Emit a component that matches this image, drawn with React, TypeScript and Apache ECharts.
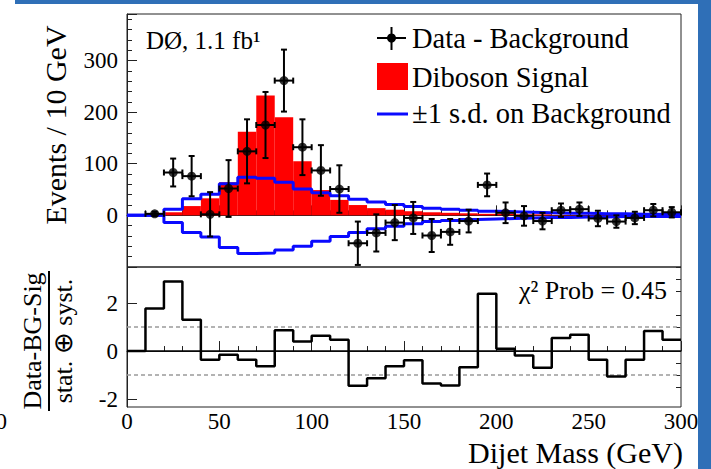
import React, { useEffect, useRef } from "react";
import * as echarts from "echarts";

// Dijet mass bins, 10 GeV wide
const binEdges = [
  0, 10, 20, 30, 40, 50, 60, 70, 80, 90, 100, 110, 120, 130, 140, 150,
  160, 170, 180, 190, 200, 210, 220, 230, 240, 250, 260, 270, 280, 290, 300,
];

// Expected diboson signal (events / 10 GeV)
const signal = [
  0, 0, 6, 18, 33, 64, 162, 232, 190, 105, 49, 30, 20, 14, 11, 8, 6, 5, 4, 3,
  3, 2, 2, 1, 1, 1, 1, 1, 1, 1,
];

// ±1 s.d. band on the background
const bgUp = [
  0, 0, 12, 32, 41, 61, 74, 72, 64, 51, 44, 38, 31, 26, 21, 17, 14, 12, 10, 8,
  7, 6, 5, 4, 4, 3, 3, 2, 2, 2,
];
const bgDown = [
  0, 0, -14, -33, -42, -62, -74, -73, -67, -60, -50, -41, -33, -26, -21, -16,
  -12, -10, -8, -7, -6, -5, -4, -4, -3, -3, -2, -2, -2, -2,
];

// Data minus background, with uncertainties
const dataValues = [
  null, 3, 83, 76, 2, 52, 124, 175, 261, 132, 87, 51, -54, -34, -14, -5, -39,
  -32, -11, 59, 5, -1, -11, 10, 12, -6, -12, -5, 10, 6,
];
const dataErrors = [
  null, 4, 27, 39, 43, 55, 62, 64, 60, 54, 49, 46, 42, 36, 34, 31, 32, 25, 22,
  22, 20, 19, 16, 13, 13, 15, 12, 12, 12, 10,
];

// (Data - BG - Sig) / (stat ⊕ syst)
const pulls = [
  0, 1.77, 2.9, 1.3, -0.36, -0.15, -0.36, -0.63, 0.87, 0.4, 0.64, 0.47, -1.45,
  -1.13, -0.63, -0.38, -1.35, -1.43, -0.67, 2.39, 0.1, -0.19, -0.7, 0.54, 0.68,
  -0.36, -1.06, -0.36, 0.83, 0.47,
];

const pullMajorTicks = [-2, 0, 2];
const pullMinorTicks = [-1.5, -1, -0.5, 0.5, 1, 1.5, 2.5, 3, 3.5];

const SERIF = "Liberation Serif";
const BLUE = "#0a0aff";
const RED = "#ff0000";

function stepOutline(values: number[]) {
  const pts = values.map((v, i) => [binEdges[i], v]);
  pts.push([binEdges[values.length], values[values.length - 1]]);
  return pts;
}

function label(text: string, x: number, y: number, size: number, extra: any = {}) {
  return {
    type: "text",
    x,
    y,
    ...extra.el,
    style: {
      text,
      fontFamily: SERIF,
      fontSize: size,
      fill: "#000",
      verticalAlign: "middle",
      ...extra.style,
    },
  };
}

export default function App() {
  const ref = useRef<HTMLDivElement>(null);

  useEffect(() => {
    if (!ref.current) return;
    const chart = echarts.init(ref.current, undefined, { renderer: "svg" });

    const signalBars = signal.map((v, i) => [binEdges[i], binEdges[i + 1], v]);
    const points: number[][] = [];
    dataValues.forEach((v, i) => {
      if (v === null) return;
      const lo = binEdges[i];
      const hi = binEdges[i + 1];
      points.push([(lo + hi) / 2, v as number, dataErrors[i] as number, (hi - lo) / 2]);
    });

    const tickLabel = { fontFamily: SERIF, fontSize: 23, color: "#000" };
    const axisLine = { lineStyle: { color: "#222", width: 1 } };
    const tick = (length: number, extra: any = {}) => ({
      inside: true,
      length,
      lineStyle: { color: "#222" },
      ...extra,
    });

    chart.setOption({
      animation: false,
      backgroundColor: "#fff",
      grid: [
        { left: 127, top: 14, width: 554, height: 253, show: true, borderColor: "#222", borderWidth: 1, backgroundColor: "transparent" },
        { left: 127, top: 267, width: 554, height: 140, show: true, borderColor: "#222", borderWidth: 1, backgroundColor: "transparent" },
      ],
      xAxis: [
        {
          type: "value", gridIndex: 0, min: 0, max: 300, interval: 50,
          axisLine,
          axisTick: tick(10),
          minorTick: { show: true, splitNumber: 5, length: 5, lineStyle: { color: "#222" } },
          axisLabel: { show: false },
          splitLine: { show: false },
        },
        {
          type: "value", gridIndex: 1, min: 0, max: 300, interval: 50,
          axisLine,
          axisTick: tick(10),
          minorTick: { show: true, splitNumber: 5, length: 5, lineStyle: { color: "#222" } },
          axisLabel: { ...tickLabel, margin: 3 },
          splitLine: { show: false },
        },
      ],
      yAxis: [
        {
          type: "value", gridIndex: 0, min: -100, max: 390, interval: 100,
          axisLine: { show: true, ...axisLine },
          axisTick: tick(10),
          minorTick: { show: true, splitNumber: 5, length: 5, lineStyle: { color: "#222" } },
          axisLabel: {
            ...tickLabel, margin: 9,
            formatter: (v: number) => (v >= 0 && v <= 300 ? String(v) : ""),
          },
          splitLine: { show: false },
        },
        {
          type: "value", gridIndex: 1, min: -2.33, max: 3.5,
          axisLine: { show: true, ...axisLine },
          axisTick: tick(10, { customValues: pullMajorTicks }),
          axisLabel: { ...tickLabel, margin: 9, customValues: pullMajorTicks },
          splitLine: { show: false },
        },
        {
          type: "value", gridIndex: 1, min: -2.33, max: 3.5,
          axisLine: { show: false },
          axisTick: tick(5, { customValues: pullMinorTicks }),
          axisLabel: { show: false },
          splitLine: { show: false },
        },
      ],
      series: [
        {
          name: "Diboson Signal",
          type: "custom",
          xAxisIndex: 0, yAxisIndex: 0,
          data: signalBars,
          renderItem: (_p: any, api: any) => {
            const a = api.coord([api.value(0), 0]);
            const b = api.coord([api.value(1), api.value(2)]);
            return {
              type: "rect",
              shape: { x: a[0], y: Math.min(a[1], b[1]), width: b[0] - a[0], height: Math.abs(a[1] - b[1]) },
              style: { fill: RED },
            };
          },
          z: 1,
        },
        {
          name: "bg up",
          type: "line", step: "end", xAxisIndex: 0, yAxisIndex: 0,
          data: stepOutline(bgUp), showSymbol: false, symbol: "none",
          lineStyle: { color: BLUE, width: 3 }, z: 2,
        },
        {
          name: "bg down",
          type: "line", step: "end", xAxisIndex: 0, yAxisIndex: 0,
          data: stepOutline(bgDown), showSymbol: false, symbol: "none",
          lineStyle: { color: BLUE, width: 3 }, z: 2,
        },
        {
          name: "Data - Background errors",
          type: "custom", xAxisIndex: 0, yAxisIndex: 0,
          data: points,
          renderItem: (_p: any, api: any) => {
            const x = api.value(0), y = api.value(1), e = api.value(2), hw = api.value(3);
            const c = api.coord([x, y]);
            const t = api.coord([x, y + e]);
            const b = api.coord([x, y - e]);
            const l = api.coord([x - hw, y]);
            const r = api.coord([x + hw, y]);
            const cap = 3;
            const st = { stroke: "#000", lineWidth: 2 };
            return {
              type: "group",
              children: [
                { type: "line", shape: { x1: c[0], y1: t[1], x2: c[0], y2: b[1] }, style: st },
                { type: "line", shape: { x1: l[0], y1: c[1], x2: r[0], y2: c[1] }, style: st },
                { type: "line", shape: { x1: c[0] - cap, y1: t[1], x2: c[0] + cap, y2: t[1] }, style: st },
                { type: "line", shape: { x1: c[0] - cap, y1: b[1], x2: c[0] + cap, y2: b[1] }, style: st },
                { type: "line", shape: { x1: l[0], y1: c[1] - cap, x2: l[0], y2: c[1] + cap }, style: st },
                { type: "line", shape: { x1: r[0], y1: c[1] - cap, x2: r[0], y2: c[1] + cap }, style: st },
              ],
            };
          },
          z: 3,
        },
        {
          name: "Data - Background",
          type: "scatter", xAxisIndex: 0, yAxisIndex: 0,
          data: points.map((p) => [p[0], p[1]]),
          symbol: "circle", symbolSize: 9,
          itemStyle: { color: "#000" }, z: 4,
        },
        {
          name: "zero",
          type: "line", xAxisIndex: 1, yAxisIndex: 1,
          data: [[0, 0], [300, 0]], symbol: "none",
          lineStyle: { color: "#000", width: 1.5 }, z: 2,
        },
        {
          name: "+1",
          type: "line", xAxisIndex: 1, yAxisIndex: 1,
          data: [[0, 1], [300, 1]], symbol: "none",
          lineStyle: { color: "#9a9a9a", width: 1.5, type: [4, 3] }, z: 1,
        },
        {
          name: "-1",
          type: "line", xAxisIndex: 1, yAxisIndex: 1,
          data: [[0, -1], [300, -1]], symbol: "none",
          lineStyle: { color: "#9a9a9a", width: 1.5, type: [4, 3] }, z: 1,
        },
        {
          name: "pull",
          type: "line", step: "end", xAxisIndex: 1, yAxisIndex: 1,
          data: stepOutline(pulls), symbol: "none",
          lineStyle: { color: "#000", width: 2.5 }, z: 3,
        },
      ],
      graphic: [
        // slide frame
        { type: "rect", shape: { x: 15, y: 0, width: 696, height: 4 }, style: { fill: "#2f6fb7" } },
        { type: "rect", shape: { x: 698, y: 0, width: 13, height: 469 }, style: { fill: "#2f6fb7" } },
        // legend: data marker
        { type: "line", shape: { x1: 377, y1: 38, x2: 406, y2: 38 }, style: { stroke: "#000", lineWidth: 2 } },
        { type: "line", shape: { x1: 391.5, y1: 27, x2: 391.5, y2: 50 }, style: { stroke: "#000", lineWidth: 2 } },
        { type: "circle", shape: { cx: 391.5, cy: 38, r: 4.5 }, style: { fill: "#000" } },
        label("Data - Background", 412, 38, 28.5),
        // legend: signal
        { type: "rect", shape: { x: 377, y: 63, width: 31, height: 27 }, style: { fill: RED } },
        label("Diboson Signal", 412, 77, 28.5),
        // legend: background band
        { type: "line", shape: { x1: 377, y1: 114, x2: 408, y2: 114 }, style: { stroke: BLUE, lineWidth: 3 } },
        label("±1 s.d. on Background", 412, 113, 28.5),
        // experiment label
        label("DØ, 1.1 fb¹", 146, 40, 25),
        // chi2 probability
        label("χ² Prob = 0.45", 519, 290, 26),
        // axis titles
        label("Events / 10 GeV", 55, 125, 30, {
          el: { rotation: Math.PI / 2 },
          style: { align: "center" },
        }),
        {
          type: "group", x: 49, y: 341, rotation: Math.PI / 2,
          children: [
            label("Data-BG-Sig", 0, -17, 26, { style: { align: "center" } }),
            { type: "line", shape: { x1: -70, y1: 0, x2: 70, y2: 0 }, style: { stroke: "#000", lineWidth: 2 } },
            label("stat. ⊕ syst.", 0, 14, 26, { style: { align: "center" } }),
          ],
        },
        label("Dijet Mass (GeV)", 683, 452, 30, { style: { align: "right" } }),
        // label clipped by the left margin
        label("0", 7, 421, 23, { style: { align: "right" } }),
      ],
    });

    return () => chart.dispose();
  }, []);

  return (
    <div
      ref={ref}
      style={{ position: "fixed", left: 0, top: 0, width: 711, height: 469 }}
    />
  );
}
